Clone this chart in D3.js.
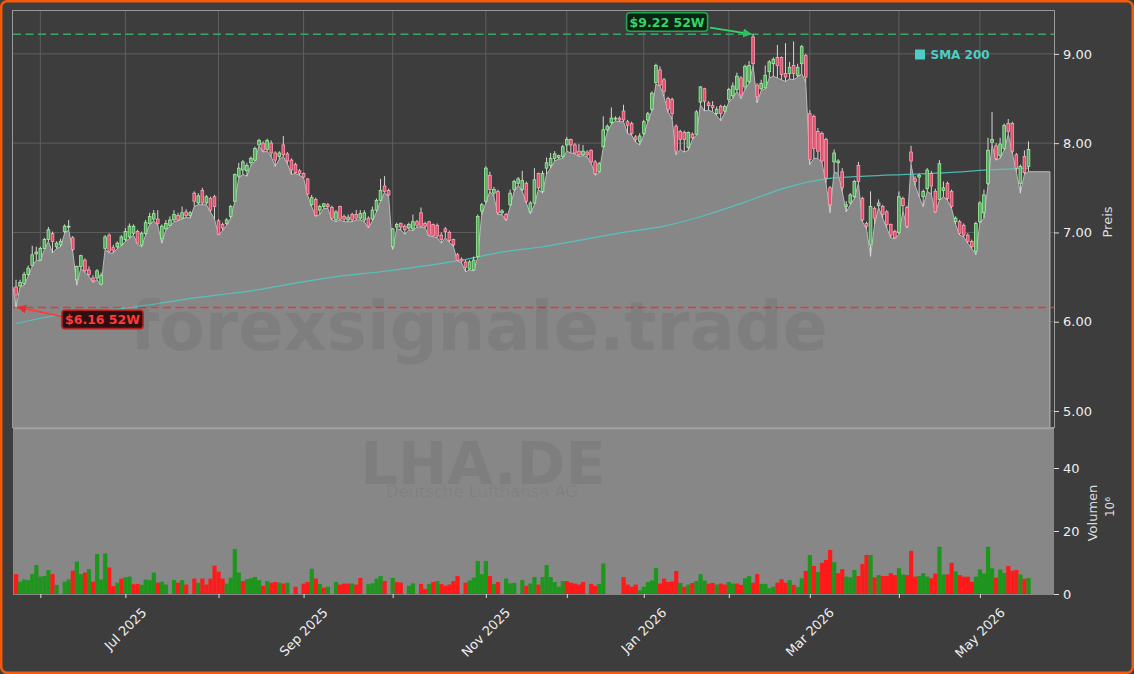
<!DOCTYPE html>
<html>
<head>
<meta charset="utf-8">
<script src="https://cdn.jsdelivr.net/npm/d3@7"></script>
<style>
html, body { margin: 0; padding: 0; background: #3d3d3d; }
svg { display: block; font-family: "DejaVu Sans", sans-serif; }
</style>
</head>
<body>
<svg id="chart" width="1134" height="674"></svg>
<script>
// daily OHLC, LHA.DE, one trading day per index (23 May 2025 .. 20 May 2026)
var opens = [
  6.39,6.40,6.43,6.53,6.63,6.76,6.69,6.82,6.92,6.99,
  6.84,6.86,7.01,7.06,6.94,6.47,6.62,6.69,6.58,6.49,
  6.49,6.42,6.82,6.97,6.83,6.84,6.86,6.92,6.95,6.99,
  7.01,6.86,6.99,7.10,7.15,7.15,6.93,7.04,7.08,7.14,
  7.19,7.16,7.23,7.19,7.44,7.33,7.47,7.33,7.38,7.40,
  7.13,7.09,7.10,7.18,7.35,7.63,7.70,7.69,7.78,7.81,
  7.98,8.00,7.93,8.00,7.89,7.85,7.98,7.88,7.81,7.76,
  7.69,7.66,7.60,7.31,7.37,7.25,7.29,7.31,7.28,7.14,
  7.29,7.18,7.14,7.20,7.20,7.16,7.14,7.16,7.15,7.25,
  7.36,7.52,7.47,6.84,7.06,7.10,7.07,7.05,7.04,7.12,
  7.22,7.10,7.12,7.09,7.08,6.97,7.04,7.00,6.92,6.75,
  6.70,6.67,6.59,6.58,6.73,7.24,7.35,7.64,7.44,7.46,
  7.22,7.20,7.31,7.48,7.55,7.48,7.55,7.23,7.33,7.66,
  7.46,7.72,7.75,7.83,7.84,7.85,7.98,8.04,7.98,7.91,
  7.87,7.90,7.92,7.79,7.68,7.96,8.15,8.23,8.27,8.28,
  8.36,8.24,8.22,8.07,8.02,8.11,8.26,8.38,8.68,8.82,
  8.71,8.50,8.49,8.19,8.13,8.12,7.95,8.10,8.10,8.46,
  8.61,8.45,8.42,8.33,8.41,8.36,8.49,8.53,8.60,8.73,
  8.63,8.69,9.19,8.65,8.61,8.62,8.80,8.89,8.96,8.96,
  8.78,8.78,8.87,8.76,8.89,8.98,8.33,8.30,8.13,8.11,
  8.04,7.50,7.79,7.78,7.68,7.29,7.33,7.40,7.75,7.38,
  7.10,6.86,7.27,7.30,7.29,7.23,7.09,7.01,7.00,7.38,
  7.28,7.90,7.60,7.62,7.40,7.49,7.66,7.46,7.37,7.47,
  7.55,7.46,7.12,7.12,7.08,6.97,6.90,6.79,7.12,7.22,
  7.55,8.01,7.97,7.86,7.94,8.22,8.22,7.87,7.55,7.85,7.74
];
var highs = [
  6.47,6.47,6.56,6.63,6.85,6.84,6.84,6.94,7.06,7.01,
  6.90,6.93,7.09,7.14,6.96,6.63,6.75,6.71,6.62,6.52,
  6.59,6.55,6.97,6.99,6.86,6.90,6.97,7.05,7.10,7.09,
  7.03,7.01,7.14,7.22,7.25,7.25,7.09,7.14,7.18,7.25,
  7.22,7.29,7.26,7.24,7.46,7.44,7.50,7.42,7.40,7.42,
  7.15,7.11,7.16,7.31,7.66,7.78,7.81,7.78,7.85,7.96,
  8.05,8.02,8.05,8.03,7.91,7.91,8.08,7.90,7.83,7.78,
  7.71,7.67,7.61,7.42,7.39,7.31,7.33,7.33,7.30,7.25,
  7.30,7.20,7.20,7.22,7.25,7.25,7.25,7.18,7.29,7.38,
  7.60,7.63,7.49,7.05,7.11,7.11,7.09,7.11,7.20,7.14,
  7.28,7.12,7.13,7.10,7.10,7.00,7.06,7.02,6.93,6.77,
  6.72,6.69,6.69,6.73,7.20,7.33,7.74,7.68,7.51,7.48,
  7.26,7.22,7.48,7.59,7.62,7.69,7.57,7.35,7.72,7.67,
  7.69,7.84,7.89,7.91,7.87,7.98,8.07,8.05,8.00,7.99,
  7.98,7.92,7.93,7.81,7.79,8.30,8.21,8.40,8.30,8.30,
  8.43,8.26,8.24,8.09,8.11,8.26,8.35,8.58,8.89,8.86,
  8.73,8.52,8.51,8.21,8.15,8.14,8.13,8.12,8.37,8.64,
  8.62,8.47,8.47,8.41,8.43,8.43,8.62,8.68,8.79,8.75,
  8.88,8.92,9.22,8.67,8.71,8.87,8.93,8.96,9.10,8.97,
  9.12,8.91,9.14,8.89,9.10,9.00,8.37,8.32,8.17,8.13,
  8.06,7.52,7.93,7.82,7.72,7.35,7.44,7.59,7.79,7.40,
  7.12,7.46,7.29,7.37,7.31,7.25,7.10,7.03,7.46,7.40,
  7.30,7.97,7.63,7.66,7.48,7.72,7.69,7.49,7.81,7.57,
  7.57,7.48,7.18,7.14,7.10,6.99,6.92,7.12,7.35,7.48,
  8.06,8.35,8.00,8.06,8.22,8.27,8.24,7.89,7.76,7.92,8.02
];
var lows = [
  6.16,6.39,6.41,6.51,6.62,6.69,6.68,6.81,6.90,6.77,
  6.82,6.84,6.99,7.03,6.79,6.41,6.60,6.55,6.51,6.44,
  6.47,6.41,6.81,6.77,6.77,6.82,6.85,6.90,6.93,6.97,
  6.87,6.84,6.97,7.09,7.13,7.08,6.88,7.03,7.07,7.12,
  7.13,7.15,7.17,7.16,7.29,7.31,7.31,7.31,7.23,7.15,
  6.97,7.02,7.08,7.16,7.34,7.61,7.65,7.63,7.75,7.80,
  7.97,7.90,7.91,7.85,7.74,7.82,7.85,7.77,7.65,7.66,
  7.64,7.61,7.42,7.29,7.18,7.20,7.27,7.27,7.14,7.12,
  7.14,7.12,7.12,7.12,7.14,7.14,7.12,7.05,7.13,7.23,
  7.35,7.45,7.40,6.81,7.04,7.03,6.98,7.03,7.02,7.06,
  7.06,7.05,6.96,6.95,6.94,6.88,6.94,6.89,6.84,6.68,
  6.66,6.56,6.58,6.57,6.72,7.20,7.33,7.46,7.40,7.20,
  7.20,7.13,7.29,7.46,7.53,7.46,7.33,7.21,7.31,7.48,
  7.44,7.65,7.72,7.80,7.82,7.83,7.91,7.89,7.88,7.85,
  7.86,7.85,7.78,7.64,7.67,7.95,8.13,8.21,8.25,8.24,
  8.24,8.11,8.09,8.01,7.98,8.09,8.24,8.36,8.66,8.64,
  8.52,8.35,8.27,7.87,7.93,7.90,7.92,8.04,8.09,8.43,
  8.36,8.37,8.35,8.31,8.25,8.34,8.46,8.50,8.58,8.50,
  8.60,8.67,8.87,8.45,8.59,8.61,8.73,8.75,8.73,8.71,
  8.69,8.72,8.71,8.74,8.78,8.68,7.76,7.83,7.83,7.78,
  7.55,7.22,7.68,7.66,7.46,7.23,7.31,7.38,7.55,7.12,
  7.04,6.73,7.09,7.28,7.16,7.05,6.94,6.93,6.98,7.24,
  7.05,7.76,7.53,7.40,7.29,7.46,7.43,7.22,7.36,7.40,
  7.36,7.27,7.09,6.97,6.95,6.88,6.82,6.75,7.10,7.16,
  7.53,7.98,7.81,7.83,7.92,8.10,7.89,7.68,7.44,7.65,7.68
];
var closes = [
  6.30,6.44,6.53,6.60,6.75,6.78,6.82,6.92,7.03,6.90,
  6.88,6.90,7.07,7.07,6.81,6.62,6.74,6.57,6.53,6.46,
  6.57,6.52,6.95,6.79,6.80,6.88,6.95,7.01,7.07,7.07,
  6.88,6.99,7.11,7.18,7.21,7.10,7.07,7.10,7.14,7.20,
  7.14,7.22,7.19,7.22,7.35,7.41,7.33,7.40,7.25,7.29,
  6.98,7.05,7.14,7.29,7.65,7.72,7.79,7.75,7.83,7.94,
  8.03,7.92,8.03,7.89,7.81,7.89,7.87,7.80,7.70,7.67,
  7.66,7.62,7.43,7.39,7.19,7.29,7.32,7.29,7.16,7.23,
  7.15,7.15,7.17,7.14,7.16,7.21,7.22,7.07,7.25,7.36,
  7.47,7.46,7.42,7.04,7.09,7.06,7.03,7.09,7.12,7.08,
  7.07,7.07,6.97,6.96,6.96,6.92,7.01,6.91,6.86,6.69,
  6.68,6.61,6.67,6.69,7.18,7.31,7.72,7.48,7.48,7.22,
  7.24,7.15,7.44,7.57,7.60,7.58,7.35,7.33,7.59,7.50,
  7.66,7.78,7.83,7.88,7.86,7.96,8.04,7.98,7.89,7.87,
  7.91,7.87,7.79,7.66,7.77,8.15,8.19,8.28,8.28,8.26,
  8.26,8.20,8.11,8.04,8.08,8.24,8.33,8.56,8.87,8.65,
  8.58,8.38,8.33,7.91,8.04,8.04,8.12,8.06,8.35,8.63,
  8.47,8.42,8.40,8.38,8.33,8.41,8.60,8.64,8.75,8.54,
  8.86,8.87,8.89,8.52,8.67,8.76,8.91,8.94,8.87,8.77,
  8.74,8.85,8.78,8.85,9.08,8.74,7.82,7.94,7.91,7.80,
  7.61,7.31,7.89,7.80,7.50,7.31,7.42,7.57,7.57,7.14,
  7.07,7.29,7.16,7.33,7.20,7.09,6.97,6.94,7.40,7.30,
  7.07,7.80,7.57,7.64,7.46,7.70,7.52,7.23,7.77,7.50,
  7.38,7.29,7.16,6.99,6.97,6.90,6.84,7.10,7.33,7.42,
  7.92,8.04,7.83,7.99,8.20,8.13,7.91,7.72,7.74,7.67,7.93
];
// volume in millions, and its bar colour (u = green, d = red, - = no bar)
var volumes = [
  6.3,3.9,4.6,4.4,6.3,9.2,5.5,5.7,7.6,6.3,
  2.9,0,3.9,4.6,7.4,10.3,6.3,6.8,7.9,3.9,
  12.7,4.6,12.9,8.4,2.5,3.6,4.9,5.3,5.5,3.1,
  3.2,2.9,4.6,4.4,6.8,3.6,3.9,3.0,0,4.4,
  3.6,4.4,3.0,0,4.9,3.6,4.9,3.0,4.9,9.0,
  7.1,4.9,3.3,5.2,14.3,6.8,4.1,4.7,5.0,5.4,
  4.4,2.6,4.1,3.6,3.8,3.6,3.3,3.6,0,2.3,
  0,3.3,3.8,8.0,4.9,3.2,2.0,2.3,0,3.8,
  3.0,3.3,3.3,3.3,3.0,5.1,0,3.1,3.4,4.9,
  5.7,4.1,0,5.1,3.8,3.6,0,2.6,3.4,0,
  3.2,1.6,3.2,3.8,4.1,3.2,2.6,3.0,4.1,5.7,
  0,3.6,4.3,5.2,10.5,6.3,10.5,5.7,3.2,3.8,
  0,4.9,3.4,3.5,0,4.4,2.6,3.3,5.4,3.0,
  5.4,9.2,5.4,3.8,2.3,4.1,4.1,3.6,3.3,3.0,
  3.8,0,3.2,2.6,3.2,9.7,0,0,0,0,
  5.4,3.0,2.3,3.0,1.2,2.3,3.8,4.3,8.3,3.3,
  4.9,3.8,4.0,7.3,3.5,2.3,3.0,3.5,4.1,6.3,
  4.3,3.3,3.5,3.0,3.3,3.0,3.8,3.3,3.3,2.9,
  5.0,5.7,3.6,6.3,3.2,3.2,1.8,2.3,3.6,4.7,
  3.6,4.4,2.9,2.3,5.0,7.3,12.4,8.9,7.0,9.9,
  10.8,14.0,10.1,6.6,7.9,5.5,5.3,7.6,5.7,9.5,
  12.4,12.4,5.3,6.0,5.7,5.7,6.6,6.0,8.2,6.2,
  6.0,13.7,5.5,5.7,6.6,5.5,5.0,6.5,15.0,6.2,
  6.2,9.9,7.2,6.0,5.5,5.5,3.9,5.5,7.8,6.5,
  15.0,8.2,5.2,7.8,6.7,8.9,7.4,7.6,6.2,4.8,5.1
];
var volDir = (
  "duuuuuuuud" + "u-uuduudud" + "uuudduduud" + "duuuuduu-u" + "dud-dudddd" +
  "dduuuuduuu" + "ududdudu-d" + "-ddududu-u" + "dddudd-uuu" + "ud-udd-uu-" +
  "ddududdddd" + "-duuuuudud" + "-uuu-uduud" + "uuuuuudddd" + "d-dduu----" +
  "dddduuuuud" + "ddddududuu" + "uddudduudd" + "uudduuuudd" + "duduududud" +
  "ddudduuudd" + "dududddduu" + "ddduuudduu" + "ddudddduuu" + "uuduudddudu"
).split("");

// 200-day moving average, read every 10 trading days
var smaIndex  = [0,10,20,30,40,50,60,70,80,90,100,110,120,130,140,150,160,170,180,190,200,210,220,230,240,250];
var smaValues = [5.98,6.07,6.12,6.17,6.24,6.30,6.36,6.44,6.51,6.56,6.62,6.69,6.78,6.84,6.92,7.00,7.07,7.19,7.34,7.50,7.60,7.63,7.65,7.67,7.70,7.72];

// first trading day of each month
var monthTickIndex = [6,27,50,71,93,116,136,155,176,196,218,238];
var monthTickLabel = ["","Jul 2025","","Sep 2025","","Nov 2025","","Jan 2026","","Mar 2026","","May 2026"];

var priceTicks = [5,6,7,8,9];
var volumeTicks = [0,20,40];
var high52 = 9.22, low52 = 6.16;
var areaTail = 5.3; // the filled low line runs on past the last bar

var svg = d3.select("#chart");
var W = 1134, H = 674;
var plotL = 13, plotR = 1054, priceTop = 11, priceBot = 428, volBot = 594;
var n = closes.length;

var x = d3.scaleLinear().domain([-0.75, 256.3]).range([plotL, plotR]);
var step = x(1) - x(0);
var yP = d3.scaleLinear().domain([4.81, 9.48]).range([priceBot, priceTop]);
var yV = d3.scaleLinear().domain([0, 52.7]).range([volBot, priceBot]);

var idx = d3.range(n);

svg.append("rect").attr("width", W).attr("height", H).attr("fill", "#3d3d3d");

var defs = svg.append("defs");
defs.append("clipPath").attr("id", "clipP").append("rect")
  .attr("x", plotL).attr("y", priceTop).attr("width", plotR - plotL).attr("height", priceBot - priceTop);
function marker(id, col) {
  defs.append("marker").attr("id", id).attr("viewBox", "0 0 10 10")
    .attr("refX", 9).attr("refY", 5).attr("markerWidth", 5).attr("markerHeight", 5)
    .attr("orient", "auto").attr("markerUnits", "strokeWidth")
    .append("path").attr("d", "M0,0 L10,5 L0,10 z").attr("fill", col);
}
marker("arrG", "#2fbf5f");
marker("arrR", "#e23030");

// grid
var grid = svg.append("g");
grid.selectAll(".hg").data(priceTicks).enter().append("line")
  .attr("x1", plotL).attr("x2", plotR)
  .attr("y1", function(d) { return yP(d); }).attr("y2", function(d) { return yP(d); })
  .attr("stroke", "#5e5e5e").attr("stroke-width", 1);
grid.selectAll(".vg").data(monthTickIndex).enter().append("line")
  .attr("x1", function(d) { return x(d); }).attr("x2", function(d) { return x(d); })
  .attr("y1", priceTop).attr("y2", priceBot)
  .attr("stroke", "#5e5e5e").attr("stroke-width", 1);

var pg = svg.append("g").attr("clip-path", "url(#clipP)");

// filled low line, starting at the left edge of the panel
var areaPts = [[x.domain()[0], opens[0]]].concat(idx.map(function(i) { return [i, lows[i]]; }));
areaPts.push([n - 1 + areaTail, lows[n - 1]]);
pg.append("path").datum(areaPts)
  .attr("d", d3.area().x(function(d) { return x(d[0]); }).y0(priceBot).y1(function(d) { return yP(d[1]); }))
  .attr("fill", "#878787");
var edge = areaPts.slice();
edge.push([n - 1 + areaTail, 4.81]);
pg.append("path").datum(edge)
  .attr("d", d3.line().x(function(d) { return x(d[0]); }).y(function(d) { return yP(d[1]); }))
  .attr("fill", "none").attr("stroke", "#b9b9b9").attr("stroke-width", 1);

// volume panel
svg.append("rect").attr("x", plotL).attr("y", priceBot).attr("width", plotR - plotL).attr("height", volBot - priceBot + 1)
  .attr("fill", "#878787");

// watermarks
svg.append("text").attr("x", 479).attr("y", 350).attr("text-anchor", "middle")
  .attr("font-size", 67).attr("font-weight", "bold").attr("fill", "#000").attr("fill-opacity", 0.065)
  .text("forexsignale.trade");
svg.append("text").attr("x", 483).attr("y", 484).attr("text-anchor", "middle")
  .attr("font-size", 59).attr("font-weight", "bold").attr("fill", "#000").attr("fill-opacity", 0.065)
  .text("LHA.DE");
svg.append("text").attr("x", 482).attr("y", 497).attr("text-anchor", "middle")
  .attr("font-size", 16.4).attr("fill", "#000").attr("fill-opacity", 0.06)
  .text("Deutsche Lufthansa AG");

// volume bars
svg.append("g").selectAll("rect").data(idx.filter(function(i) { return volumes[i] > 0; })).enter().append("rect")
  .attr("x", function(i) { return x(i) - step / 2; })
  .attr("width", step + 0.15)
  .attr("y", function(i) { return yV(volumes[i]); })
  .attr("height", function(i) { return volBot - yV(volumes[i]); })
  .attr("fill", function(i) { return volDir[i] === "u" ? "#1e961e" : "#ff1a1a"; });

svg.append("line").attr("x1", plotL).attr("x2", plotR).attr("y1", priceBot + 0.5).attr("y2", priceBot + 0.5)
  .attr("stroke", "#a2a2a2").attr("stroke-width", 1.5);

// 52 week lines
pg.append("line").attr("x1", plotL).attr("x2", plotR).attr("y1", yP(high52)).attr("y2", yP(high52))
  .attr("stroke", "#3aa863").attr("stroke-width", 1.6).attr("stroke-dasharray", "8,4.5");
pg.append("line").attr("x1", plotL).attr("x2", plotR).attr("y1", yP(low52)).attr("y2", yP(low52))
  .attr("stroke", "#e03a3a").attr("stroke-width", 1.6).attr("stroke-dasharray", "8,4.5");

// SMA 200
pg.append("path").datum(smaIndex.map(function(d, k) { return [d, smaValues[k]]; }))
  .attr("d", d3.line().curve(d3.curveMonotoneX).x(function(d) { return x(d[0]); }).y(function(d) { return yP(d[1]); }))
  .attr("fill", "none").attr("stroke", "#4ecdc4").attr("stroke-opacity", 0.85).attr("stroke-width", 1.2);

// candles
var cg = pg.append("g");
cg.selectAll("line").data(idx).enter().append("line")
  .attr("x1", function(i) { return x(i); }).attr("x2", function(i) { return x(i); })
  .attr("y1", function(i) { return yP(highs[i]); }).attr("y2", function(i) { return yP(lows[i]); })
  .attr("stroke", "#d6d6d6").attr("stroke-width", 1);
cg.selectAll("rect").data(idx).enter().append("rect")
  .attr("x", function(i) { return x(i) - 1.35; })
  .attr("width", 2.7)
  .attr("y", function(i) { return yP(Math.max(opens[i], closes[i])); })
  .attr("height", function(i) { return Math.max(0.8, Math.abs(yP(opens[i]) - yP(closes[i]))); })
  .attr("fill", function(i) { return closes[i] >= opens[i] ? "#5da566" : "#e24d6c"; })
  .attr("stroke", function(i) { return closes[i] >= opens[i] ? "#9cf29c" : "#ff9fb3"; })
  .attr("stroke-width", 0.8);

// frame
svg.append("rect").attr("x", plotL - 0.5).attr("y", priceTop - 0.5).attr("width", plotR - plotL + 1).attr("height", priceBot - priceTop)
  .attr("fill", "none").attr("stroke", "#9a9a9a").attr("stroke-width", 1);

// 52W labels
function tag(iBar, val, dx, dy, txt, col, bg, border, markId, fromDx, fromDy) {
  var tx = x(iBar), ty = yP(val);
  var cx = tx + dx, cy = ty + dy;
  svg.append("line").attr("x1", cx + fromDx).attr("y1", cy + fromDy)
    .attr("x2", tx + (dx < 0 ? -2 : 2)).attr("y2", ty)
    .attr("stroke", col).attr("stroke-width", 1.8).attr("marker-end", "url(#" + markId + ")");
  svg.append("rect").attr("x", cx - 40.5).attr("y", cy - 9.2).attr("width", 81).attr("height", 18.4)
    .attr("rx", 3).attr("fill", bg).attr("stroke", border).attr("stroke-width", 1.6);
  svg.append("text").attr("x", cx).attr("y", cy).attr("dy", "0.36em").attr("text-anchor", "middle")
    .attr("font-size", 12.5).attr("font-weight", "bold").attr("fill", col).text(txt);
}
tag(182, high52, -86, -12.2, "$9.22 52W", "#34d46a", "#0c2414", "#23a552", "arrG", 43, 5.5);
tag(0, low52, 86.5, 12, "$6.16 52W", "#ff3b3b", "#2e0f0f", "#b52020", "arrR", -40.5, -3);

// legend
svg.append("rect").attr("x", 915).attr("y", 49.5).attr("width", 10).attr("height", 10).attr("fill", "#4ecdc4");
svg.append("text").attr("x", 930.5).attr("y", 58.8).attr("font-size", 12).attr("font-weight", "bold")
  .attr("fill", "#4ecdc4").text("SMA 200");

// axes
function styleAxis(g) {
  g.select(".domain").remove();
  g.selectAll(".tick line").attr("stroke", "#dddddd");
  g.selectAll(".tick text").attr("fill", "#eeeeee").attr("font-size", 13).attr("font-family", "DejaVu Sans");
}
svg.append("g").attr("transform", "translate(" + plotR + ",0)")
  .call(d3.axisRight(yP).tickValues(priceTicks).tickFormat(d3.format(".2f")).tickSize(5).tickPadding(4))
  .call(styleAxis);
svg.append("g").attr("transform", "translate(" + plotR + ",0)")
  .call(d3.axisRight(yV).tickValues(volumeTicks).tickFormat(d3.format("d")).tickSize(5).tickPadding(4))
  .call(styleAxis);
svg.append("g").attr("transform", "translate(0," + volBot + ")")
  .call(d3.axisBottom(x).tickValues(monthTickIndex).tickFormat("").tickSize(4))
  .call(styleAxis);

monthTickIndex.forEach(function(d, k) {
  if (!monthTickLabel[k]) return;
  var t = svg.append("text").attr("text-anchor", "middle").attr("dy", "0.35em")
    .attr("font-size", 13).attr("fill", "#eeeeee").text(monthTickLabel[k]);
  var L = t.node().getComputedTextLength();
  var cy = 606 + (L + 12) * 0.7071 / 2;
  t.attr("transform", "translate(" + x(d) + "," + cy + ") rotate(-45)");
});

svg.append("text").attr("transform", "translate(1107,222) rotate(-90)").attr("text-anchor", "middle")
  .attr("dy", "0.35em").attr("font-size", 13).attr("fill", "#dddddd").text("Preis");
svg.append("text").attr("transform", "translate(1092,513) rotate(-90)").attr("text-anchor", "middle")
  .attr("dy", "0.35em").attr("font-size", 13).attr("fill", "#dddddd").text("Volumen");
svg.append("text").attr("transform", "translate(1110,507) rotate(-90)").attr("text-anchor", "middle")
  .attr("dy", "0.35em").attr("font-size", 12).attr("fill", "#dddddd").text("10\u2076");

// outer border
svg.append("rect").attr("x", 1.2).attr("y", 1.2).attr("width", W - 2.4).attr("height", H - 2.4).attr("rx", 6)
  .attr("fill", "none").attr("stroke", "#f55a0a").attr("stroke-width", 2.5);
</script>
</body>
</html>
